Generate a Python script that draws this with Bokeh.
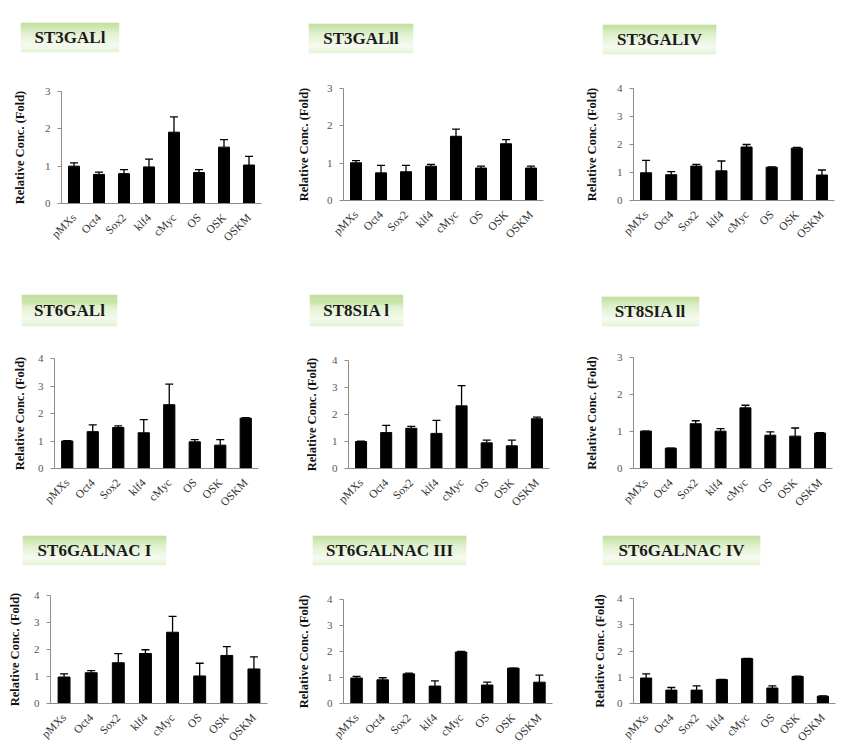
import math
from bokeh.plotting import figure
from bokeh.models import Range1d, FactorRange, FixedTicker, ColumnDataSource, Whisker, TeeHead
from bokeh.layouts import row, column
from bokeh.embed import file_html
from bokeh.resources import INLINE
from bokeh.core.properties import value

# ---------------- data ----------------
categories = ["pMXs", "Oct4", "Sox2", "klf4", "cMyc", "OS", "OSK", "OSKM"]

titles = ["ST3GALl", "ST3GALll", "ST3GALIV",
          "ST6GALl", "ST8SIA l", "ST8SIA ll",
          "ST6GALNAC I", "ST6GALNAC III", "ST6GALNAC IV"]

st3gal1 = [1.00, 0.78, 0.80, 0.98, 1.91, 0.83, 1.51, 1.03]
st3gal1_err = [0.09, 0.06, 0.11, 0.21, 0.41, 0.08, 0.20, 0.23]

st3gal2 = [1.01, 0.74, 0.77, 0.92, 1.72, 0.87, 1.52, 0.87]
st3gal2_err = [0.06, 0.20, 0.17, 0.05, 0.19, 0.05, 0.11, 0.05]

st3gal4 = [0.99, 0.92, 1.23, 1.06, 1.91, 1.19, 1.87, 0.91]
st3gal4_err = [0.44, 0.11, 0.06, 0.35, 0.09, 0.01, 0.03, 0.18]

st6gal1 = [1.00, 1.34, 1.49, 1.30, 2.32, 0.97, 0.85, 1.83]
st6gal1_err = [0.01, 0.25, 0.06, 0.48, 0.75, 0.08, 0.20, 0.02]

st8sia1 = [1.00, 1.33, 1.49, 1.30, 2.32, 0.95, 0.84, 1.84]
st8sia1_err = [0.01, 0.27, 0.07, 0.48, 0.75, 0.10, 0.21, 0.06]

st8sia2 = [1.01, 0.55, 1.21, 1.01, 1.64, 0.90, 0.875, 0.96]
st8sia2_err = [0.0, 0.0, 0.08, 0.07, 0.07, 0.09, 0.22, 0.01]

st6galnac1 = [0.98, 1.14, 1.51, 1.85, 2.64, 1.02, 1.78, 1.28]
st6galnac1_err = [0.12, 0.08, 0.34, 0.14, 0.59, 0.47, 0.33, 0.45]

st6galnac3 = [0.98, 0.91, 1.14, 0.67, 1.98, 0.71, 1.36, 0.82]
st6galnac3_err = [0.06, 0.08, 0.03, 0.20, 0.02, 0.11, 0.0, 0.27]

st6galnac4 = [0.97, 0.51, 0.51, 0.91, 1.71, 0.59, 1.03, 0.28]
st6galnac4_err = [0.16, 0.10, 0.16, 0.01, 0.01, 0.08, 0.01, 0.01]

series = [st3gal1, st3gal2, st3gal4, st6gal1, st8sia1, st8sia2, st6galnac1, st6galnac3, st6galnac4]
errors = [st3gal1_err, st3gal2_err, st3gal4_err, st6gal1_err, st8sia1_err, st8sia2_err,
          st6galnac1_err, st6galnac3_err, st6galnac4_err]
y_max = [3, 3, 4, 4, 4, 3, 4, 4, 4]

y_label = "Relative Conc. (Fold)"

# ---------------- layout (pixels) ----------------
col_w = [290, 280, 280]
row_h = [268, 247, 235]
badge_h = [60, 64, 60]
# badge borders (L, R, T, B)
badge_borders = [(20, 171, 22, 8), (18, 157, 23, 7), (32, 134, 24, 6),
                 (21, 173, 26, 6), (19, 167, 26, 6), (31, 151, 28, 6),
                 (22, 124, 20, 10), (22, 104, 20, 10), (32, 90, 20, 10)]
# chart borders (L, R, T, B)
chart_borders = [(61, 29, 31, 65), (53, 27, 28, 68), (63, 16, 28, 68),
                 (54, 32, 26, 45), (58, 21, 28, 44), (63, 18, 25, 46),
                 (50, 23, 20, 42), (53, 18, 24, 42), (63, 15, 23, 42)]
label_standoff = [15, 13, 15, 8, 10, 15, 9, 13, 7]

SERIF_NAME = "Liberation Serif"
SERIF = value(SERIF_NAME)


def hex_to_rgb(h):
    h = h.lstrip("#")
    return tuple(int(h[i:i + 2], 16) for i in (0, 2, 4))


def interp_color(stops, t):
    for (t0, c0), (t1, c1) in zip(stops[:-1], stops[1:]):
        if t0 <= t <= t1:
            f = (t - t0) / (t1 - t0) if t1 > t0 else 0
            a, b = hex_to_rgb(c0), hex_to_rgb(c1)
            return "#%02x%02x%02x" % tuple(int(round(a[k] + (b[k] - a[k]) * f)) for k in range(3))
    return stops[-1][1]


grad_stops = [(0.0, "#acd47f"), (0.35, "#d6ecbd"), (0.75, "#f3f9ec"), (1.0, "#d9eec3")]
N_STRIPS = 30


def make_badge(title, w, h, borders):
    L, R, T, B = borders
    p = figure(width=w, height=h, x_range=Range1d(0, 1), y_range=Range1d(0, 1),
               output_backend="svg", toolbar_location=None,
               x_axis_type=None, y_axis_type=None,
               min_border_left=L, min_border_right=R, min_border_top=T, min_border_bottom=B)
    p.outline_line_color = None
    bottoms, tops, colors = [], [], []
    for i in range(N_STRIPS):
        bottoms.append(i / N_STRIPS)
        tops.append((i + 1) / N_STRIPS)
        colors.append(interp_color(grad_stops, 1 - (i + 0.5) / N_STRIPS))
    p.quad(left=0, right=1, bottom=bottoms, top=tops, fill_color=colors, line_color=None)
    p.text(x=[0.5], y=[0.5], text=[title], text_align="center", text_baseline="middle",
           text_font=SERIF, text_font_style="bold", text_font_size="17px", text_color="#1a1a1a")
    return p


def make_chart(vals, errs, ymax, w, h, borders, standoff):
    L, R, T, B = borders
    p = figure(width=w, height=h, x_range=FactorRange(*categories), y_range=Range1d(0, ymax),
               output_backend="svg", toolbar_location=None,
               min_border_left=L, min_border_right=R, min_border_top=T, min_border_bottom=B)
    p.outline_line_color = None
    p.grid.grid_line_color = None
    src = ColumnDataSource(dict(cat=categories, val=vals,
                                upper=[v + e for v, e in zip(vals, errs)]))
    p.vbar(x="cat", top="val", bottom=0, width=0.44, source=src,
           fill_color="black", line_color="black")
    wh = Whisker(base="cat", upper="upper", lower="val", source=src, dimension="height",
                 line_color="black", line_width=1.3,
                 upper_head=TeeHead(size=8, line_color="black", line_width=1.3),
                 lower_head=None)
    p.add_layout(wh)

    ya = p.yaxis[0]
    ya.ticker = FixedTicker(ticks=list(range(0, ymax + 1)))
    ya.minor_tick_line_color = None
    ya.major_tick_in = 0
    ya.major_tick_out = 4
    ya.major_tick_line_color = "#8c8c8c"
    ya.axis_line_color = "#8c8c8c"
    ya.major_label_text_font = SERIF_NAME
    ya.major_label_text_font_size = "11px"
    ya.major_label_text_color = "#555555"
    ya.major_label_standoff = 7
    ya.axis_label = y_label
    ya.axis_label_text_font = SERIF_NAME
    ya.axis_label_text_font_style = "bold"
    ya.axis_label_text_font_size = "12.5px"
    ya.axis_label_text_color = "#111111"
    ya.axis_label_standoff = standoff

    xa = p.xaxis[0]
    xa.major_tick_line_color = None
    xa.minor_tick_line_color = None
    xa.axis_line_color = "#8c8c8c"
    xa.major_label_orientation = math.pi / 4
    xa.major_label_text_font = SERIF_NAME
    xa.major_label_text_font_size = "11.5px"
    xa.major_label_text_color = "#333333"
    xa.major_label_standoff = 6
    return p


rows = []
for r in range(3):
    cols = []
    for c in range(3):
        k = r * 3 + c
        b = make_badge(titles[k], col_w[c], badge_h[r], badge_borders[k])
        ch = make_chart(series[k], errors[k], y_max[k], col_w[c], row_h[r] - badge_h[r],
                        chart_borders[k], label_standoff[k])
        cols.append(column(row(b), row(ch), spacing=0))
    rows.append(row(*cols, spacing=0))

layout = column(*rows, spacing=0)

open("out.html", "w").write(file_html(layout, INLINE))
